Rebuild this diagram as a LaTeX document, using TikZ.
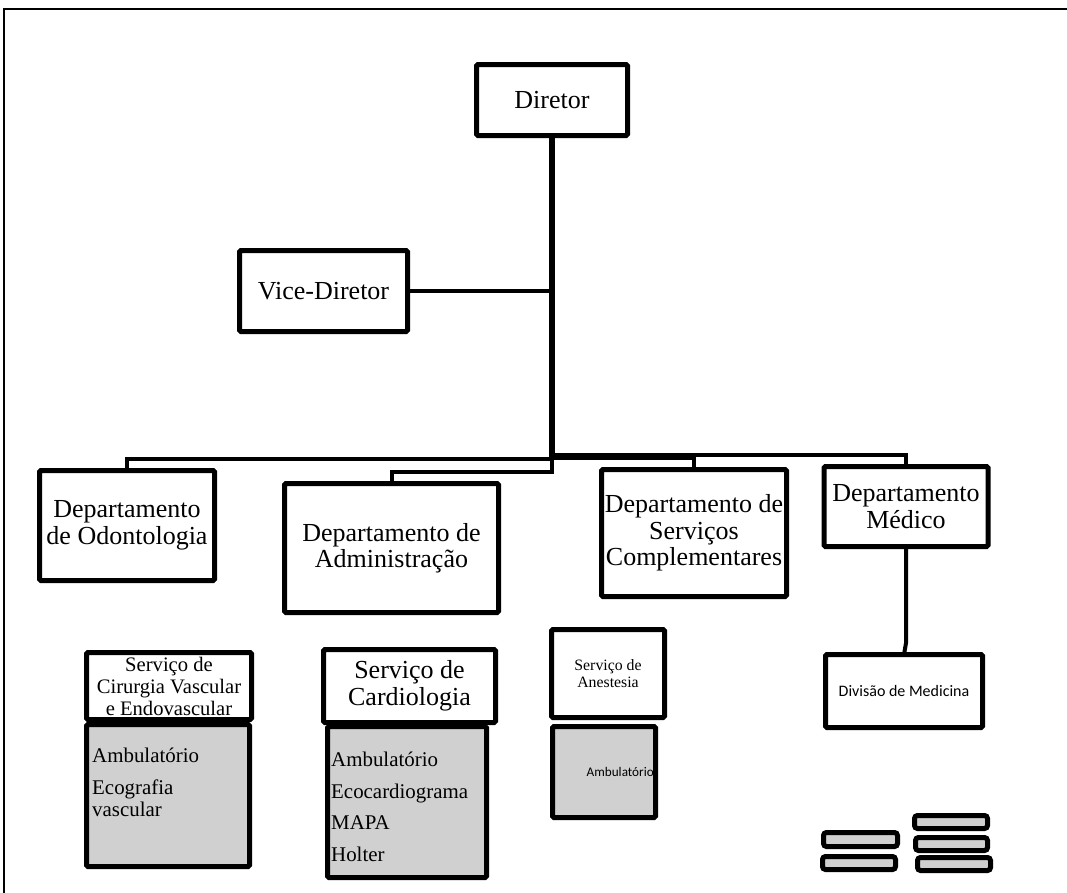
\documentclass[tikz,border=0pt]{standalone}
\usepackage{fontspec}
\setmainfont{Liberation Serif}
\newfontfamily\calib{Carlito}
\definecolor{cgray}{RGB}{208,208,208}
\begin{document}
\begin{tikzpicture}[x=1pt,y=-1pt,
  box/.style={draw, line width=5pt, rounded corners=1.5pt, inner sep=0pt, outer sep=0pt, align=center, fill=white},
  graybox/.style={box, fill=cgray},
  dept/.style={font=\fontsize{26}{26.5}\selectfont},
  conn/.style={line width=4pt},
  trunk/.style={line width=5.5pt},
  mini/.style={draw, line width=5pt, fill=cgray, rounded corners=3pt, inner sep=0pt, outer sep=0pt},
  lst/.style={anchor=north west, inner sep=0pt, align=left}
]
\useasboundingbox (0,0) rectangle (1067,892);
% frame
\draw[line width=2pt] (4,900) -- (4,9) -- (1075,9);

% boxes
\node[box, dept, minimum width=151pt, minimum height=71pt] (dir) at (552,100) {Diretor};
\node[box, dept, minimum width=168pt, minimum height=81pt] (vice) at (323.5,291) {Vice-Diretor};
\node[box, dept, minimum width=175pt, minimum height=110pt] (odo) at (127,525.5) {Departamento\\de Odontologia};
\node[box, dept, minimum width=214pt, minimum height=129pt] (adm) at (391.5,548) {Departamento de\\Administração};
\node[box, dept, minimum width=185pt, minimum height=127pt] (sc) at (694,533) {Departamento de\\Serviços\\Complementares};
\node[box, dept, minimum width=164pt, minimum height=80pt] (med) at (906,506.5) {Departamento\\Médico};

% connectors
\coordinate (j) at (552,459);
\coordinate (ja) at (552,472);
\coordinate (jm) at (552,455);
\coordinate (js) at (552,458);
\draw[trunk] (dir.south) -- (j);
\draw[conn] (vice.east) -- (vice.east -| dir.south);
\draw[conn] (j) -- (j -| odo.north) -- (odo.north);
\draw[conn] (j) -- (ja) -- (ja -| adm.north) -- (adm.north);
\draw[conn] (jm) -- (jm -| med.north) -- (med.north);
\draw[conn] (js) -- (js -| sc.north) -- (sc.north);

% Cirurgia
\node[graybox, minimum width=163pt, minimum height=142pt] (cirg) at (168,795.5) {};
\node[box, font=\fontsize{20.6}{22}\selectfont, minimum width=165pt, minimum height=67pt] (cir) at (169,686) {Serviço de\\Cirurgia Vascular\\e Endovascular};
\node[lst, font=\fontsize{20.9}{22}\selectfont] (cirL) at (92,748) {Ambulatório\\[10pt]Ecografia\\vascular};

% Cardiologia
\node[graybox, minimum width=159pt, minimum height=151pt] (cardg) at (407,802) {};
\node[box, font=\fontsize{26}{26.7}\selectfont, minimum width=172pt, minimum height=73pt] (card) at (409.5,686) {Serviço de\\Cardiologia};
\node[lst, font=\fontsize{20.9}{31.5}\selectfont] (cardL) at (331,752) {Ambulatório\\Ecocardiograma\\MAPA\\Holter};

% Anestesia
\node[graybox, minimum width=103pt, minimum height=91pt] (aneg) at (604,772) {};
\node[box, font=\fontsize{15.8}{16.5}\selectfont, minimum width=113pt, minimum height=88pt] (ane) at (608,673.5) {Serviço de\\Anestesia};
\node[anchor=east, inner sep=0pt, font=\calib\fontsize{13.2}{14}\selectfont] (aneL) at (654,772) {Ambulatório};

% Divisão de Medicina
\node[box, font=\calib\fontsize{16}{18}\selectfont, minimum width=157pt, minimum height=73pt] (div) at (904,691) {Divisão de Medicina};
\coordinate (mk) at (906,643);
\draw[conn] (med.south) -- (med.south |- mk) -- (div.north);

% small boxes
\node[mini, minimum width=74pt, minimum height=14pt] (m1) at (860.5,839.5) {};
\node[mini, minimum width=73pt, minimum height=13pt] (m2) at (859,863) {};
\node[mini, minimum width=73pt, minimum height=13pt] (m3) at (951,822) {};
\node[mini, minimum width=72pt, minimum height=13pt] (m4) at (951.5,844) {};
\node[mini, minimum width=73pt, minimum height=13pt] (m5) at (954,864) {};
\end{tikzpicture}
\end{document}
